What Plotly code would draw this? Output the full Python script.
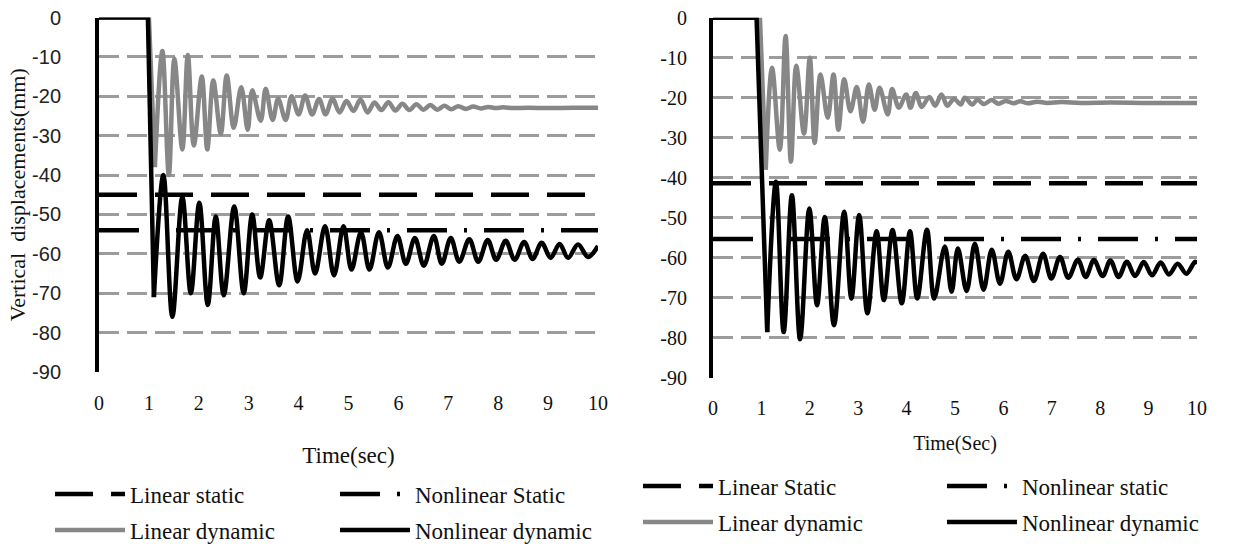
import plotly.graph_objects as go

W, H = 1236, 546

# ---------------- data ----------------
time_range = [0, 10]

# Left panel
left_linear_static = [-45, -45]
left_nonlinear_static = [-54, -54]

left_lin_dyn_t = [0, 1.0, 1.12, 1.27, 1.40, 1.51, 1.67, 1.78, 1.90, 2.06, 2.17, 2.29, 2.44, 2.56, 2.70, 2.85, 2.98, 3.07, 3.24, 3.34, 3.48, 3.59,
                  3.74, 3.86, 4.00, 4.13, 4.27, 4.41, 4.54, 4.68, 4.82, 4.96, 5.10, 5.24, 5.38, 5.52, 5.66, 5.80, 5.94, 6.08, 6.22,
                  6.36, 6.50, 6.64, 6.78, 6.92, 7.06, 7.20, 7.35, 7.50, 7.65, 7.80, 7.95, 8.10, 8.30, 8.60, 9.00, 9.50, 10.0]
left_lin_dyn_v = [0, 0, -38, -8.5, -40, -10.5, -33.5, -9.5, -32.5, -15, -33.5, -16, -29.5, -14.7, -28, -17.7, -28.5, -18.5, -26.2, -18.1, -26, -20.6,
                  -26, -20, -24.6, -19.8, -24.6, -20.7, -24.6, -20.6, -24.1, -21.2, -23.7, -20.8, -24.1, -21.6, -23.5, -21.5, -23.6, -21.9, -23.5,
                  -22, -23.4, -22.2, -23.4, -22.4, -23.3, -22.5, -23.2, -22.6, -23.1, -22.7, -23.0, -22.8, -23.0, -22.9, -23.0, -22.9, -22.9]

left_nl_dyn_t = [0, 0.98, 1.10, 1.29, 1.47, 1.67, 1.84, 2.01, 2.18, 2.34, 2.50, 2.71, 2.90, 3.07, 3.23, 3.41, 3.61, 3.79, 3.98, 4.17, 4.33,
                 4.53, 4.71, 4.90, 5.06, 5.25, 5.42, 5.61, 5.79, 5.98, 6.15, 6.33, 6.51, 6.71, 6.87, 7.05, 7.22, 7.42, 7.60, 7.79, 7.96,
                 8.15, 8.33, 8.52, 8.69, 8.87, 9.05, 9.23, 9.40, 9.60, 9.80, 10.0]
left_nl_dyn_v = [0, 0, -71, -40, -76, -45.5, -70, -47, -73, -50.5, -70.5, -48, -70, -50, -66, -51.5, -68, -50.5, -67, -54, -65,
                 -53, -65.5, -53, -64, -54.5, -64, -54.5, -63.5, -55.5, -62.5, -56, -63, -55.5, -62.5, -56, -62, -56.3, -62, -56.5, -61.5,
                 -56.7, -61.5, -57, -61.3, -57.2, -61, -57.5, -61, -57.6, -60.8, -58]

# Right panel
right_linear_static = [-41.4, -41.4]
right_nonlinear_static = [-55.3, -55.3]

right_lin_dyn_t = [0, 0.97, 1.09, 1.22, 1.38, 1.50, 1.61, 1.72, 1.88, 2.00, 2.10, 2.22, 2.37, 2.49, 2.59, 2.71, 2.84, 2.97, 3.10, 3.22,
                   3.34, 3.44, 3.61, 3.70, 3.84, 3.99, 4.08, 4.19, 4.31, 4.47, 4.59, 4.72, 4.84, 4.98, 5.12, 5.20, 5.36, 5.46, 5.60,
                   5.75, 5.90, 6.05, 6.20, 6.35, 6.50, 6.70, 6.90, 7.20, 7.60, 8.20, 9.00, 10.0]
right_lin_dyn_v = [0, 0, -38, -12.5, -33, -4.6, -36, -12, -29, -10, -31.3, -14.2, -25, -14.2, -28, -15.4, -23.4, -17.3, -26, -16.7,
                   -23, -17.5, -24.2, -17.8, -22.5, -19.2, -22.5, -18.8, -22.3, -19.8, -22, -19.2, -22, -20.3, -21.7, -20, -21.7, -20.5, -21.6,
                   -20.6, -21.5, -20.8, -21.4, -20.9, -21.4, -21.0, -21.3, -21.1, -21.3, -21.2, -21.3, -21.3]

right_nl_dyn_t = [0, 0.90, 1.12, 1.30, 1.46, 1.63, 1.80, 1.99, 2.15, 2.31, 2.50, 2.71, 2.86, 3.02, 3.19, 3.38, 3.53, 3.71, 3.90, 4.07,
                  4.22, 4.42, 4.57, 4.79, 4.93, 5.06, 5.24, 5.41, 5.59, 5.76, 5.93, 6.10, 6.27, 6.45, 6.63, 6.82, 6.99, 7.17, 7.34,
                  7.54, 7.70, 7.87, 8.05, 8.21, 8.38, 8.55, 8.72, 8.90, 9.07, 9.25, 9.42, 9.60, 9.78, 9.96, 10.0]
right_nl_dyn_v = [0, 0, -78.6, -41, -78.6, -44.4, -80.4, -47.7, -71.9, -49.8, -76.9, -48.5, -70.2, -49.3, -73.9, -53.4, -70.6, -53.1, -71.4, -53.4,
                  -70.2, -53, -70.2, -57.2, -68.5, -57.7, -68.3, -56.5, -68, -58, -66.5, -58.5, -65.4, -59.5, -65.8, -59, -65.2, -59.8, -65,
                  -60.5, -64.8, -60.6, -64.6, -60.7, -64.8, -61, -64.6, -61.1, -64.4, -61.2, -64.2, -61.5, -64, -61, -61.6]

y_ticks = [0, -10, -20, -30, -40, -50, -60, -70, -80, -90]
y_tick_labels = ["0", "-10", "-20", "-30", "-40", "-50", "-60", "-70", "-80", "-90"]
x_ticks = [0, 1, 2, 3, 4, 5, 6, 7, 8, 9, 10]

legend_names_left = ["Linear static", "Nonlinear Static", "Linear dynamic", "Nonlinear dynamic"]
legend_names_right = ["Linear Static", "Nonlinear static", "Linear dynamic", "Nonlinear dynamic"]

# ---------------- styling ----------------
BLACK = "#000000"
GRAY = "#878787"
GRID = "#9c9c9c"
SERIF = "Liberation Serif, 'Times New Roman', Times, serif"
SANS = "Liberation Sans, Arial, sans-serif"
LS_DASH = "38px,18px"
NLS_DASH = "40px,17px,3px,17px"
N_ONSET = 3  # first points (flat part + first drop) drawn straight, the rest smoothed

fig = go.Figure()

def add_dynamic(xa, ya, t, v, color, name, leg):
    fig.add_trace(go.Scatter(x=t[:N_ONSET], y=v[:N_ONSET], xaxis=xa, yaxis=ya, mode="lines",
                             line=dict(color=color, width=4.5), legendgroup=name + leg,
                             showlegend=False, legend=leg, hoverinfo="skip"))
    fig.add_trace(go.Scatter(x=t[N_ONSET - 1:], y=v[N_ONSET - 1:], xaxis=xa, yaxis=ya, mode="lines",
                             line=dict(color=color, width=4.5, shape="spline", smoothing=1.0),
                             name=name, legend=leg, legendgroup=name + leg))

def add_panel(xa, ya, lin_static, nl_static, lt, lv, nt, nv, names, legs):
    fig.add_trace(go.Scatter(x=time_range, y=lin_static, xaxis=xa, yaxis=ya, mode="lines",
                             line=dict(color=BLACK, width=4.5, dash=LS_DASH), name=names[0], legend=legs[0]))
    fig.add_trace(go.Scatter(x=time_range, y=nl_static, xaxis=xa, yaxis=ya, mode="lines",
                             line=dict(color=BLACK, width=4.5, dash=NLS_DASH), name=names[1], legend=legs[1]))
    add_dynamic(xa, ya, lt, lv, GRAY, names[2], legs[2])
    add_dynamic(xa, ya, nt, nv, BLACK, names[3], legs[3])

add_panel("x", "y", left_linear_static, left_nonlinear_static, left_lin_dyn_t, left_lin_dyn_v,
          left_nl_dyn_t, left_nl_dyn_v, legend_names_left, ["legend", "legend2", "legend3", "legend4"])
add_panel("x2", "y2", right_linear_static, right_nonlinear_static, right_lin_dyn_t, right_lin_dyn_v,
          right_nl_dyn_t, right_nl_dyn_v, legend_names_right, ["legend5", "legend6", "legend7", "legend8"])

def px_x(p):
    return p / W

def px_y(p):
    return 1 - p / H

L_DOM_X = [px_x(99), px_x(598)]
L_DOM_Y = [px_y(372), px_y(17.5)]
R_DOM_X = [px_x(713), px_x(1197)]
R_DOM_Y = [px_y(377.7), px_y(17.7)]

def yaxis_cfg(domain, font, standoff):
    return dict(domain=domain, range=[-90, 0], tickvals=y_ticks, ticktext=y_tick_labels, showgrid=True,
                gridcolor=GRID, gridwidth=2.5, griddash="20px,8px", showline=True, linecolor=BLACK, linewidth=4,
                zeroline=False, ticks="", tickfont=font, ticklabelstandoff=standoff, fixedrange=True, automargin=False)

def xaxis_bottom_cfg(domain, anchor, font, standoff, title, tfont, tstand):
    return dict(domain=domain, anchor=anchor, range=time_range, tickvals=x_ticks, showgrid=False, showline=False,
                zeroline=False, ticks="", tickfont=font, ticklabelstandoff=standoff, automargin=False,
                title=dict(text=title, font=tfont, standoff=tstand))

def xaxis_top_cfg(over, anchor):
    return dict(overlaying=over, anchor=anchor, side="top", range=time_range, tickvals=x_ticks, showgrid=False,
                showline=True, linecolor=BLACK, linewidth=4, ticks="outside", ticklen=6, tickwidth=2.5,
                tickcolor=BLACK, showticklabels=False, zeroline=False, automargin=False)

tick_serif = dict(family=SERIF, size=20, color="#111111")
tick_sans = dict(family=SANS, size=20, color="#222222")

fig.update_layout(
    width=W, height=H, margin=dict(l=0, r=0, t=0, b=0, autoexpand=False),
    paper_bgcolor="white", plot_bgcolor="white", showlegend=True,
    xaxis=xaxis_bottom_cfg(L_DOM_X, "y", tick_serif, 17, "Time(sec)", dict(family=SERIF, size=23, color="#111111"), 33),
    yaxis=dict(**yaxis_cfg(L_DOM_Y, tick_sans, 30),
               title=dict(text="Vertical&nbsp;&nbsp;displacements(mm)", font=dict(family=SERIF, size=22, color="#111111"), standoff=1)),
    xaxis2=xaxis_bottom_cfg(R_DOM_X, "y2", tick_serif, 16, "Time(Sec)", dict(family=SERIF, size=20, color="#111111"), 18),
    yaxis2=yaxis_cfg(R_DOM_Y, tick_serif, 18) | dict(anchor="x2"),
    xaxis3=xaxis_top_cfg("x", "y"),
    xaxis4=xaxis_top_cfg("x2", "y2"),
)

leg_font = dict(family=SERIF, size=23, color="#111111")
def leg(xp, yp):
    return dict(x=px_x(xp), y=px_y(yp), xanchor="left", yanchor="middle", bgcolor="rgba(0,0,0,0)",
                font=leg_font, itemwidth=70, borderwidth=0, visible=True)

fig.update_layout(
    legend=leg(50, 494), legend2=leg(335, 494), legend3=leg(50, 530), legend4=leg(335, 530),
    legend5=leg(638, 486), legend6=leg(942, 486), legend7=leg(638, 522), legend8=leg(942, 522),
)

fig.write_html("out.html", config={"displayModeBar": False},
               post_script="document.body.style.margin='0';document.body.style.overflow='hidden';")
